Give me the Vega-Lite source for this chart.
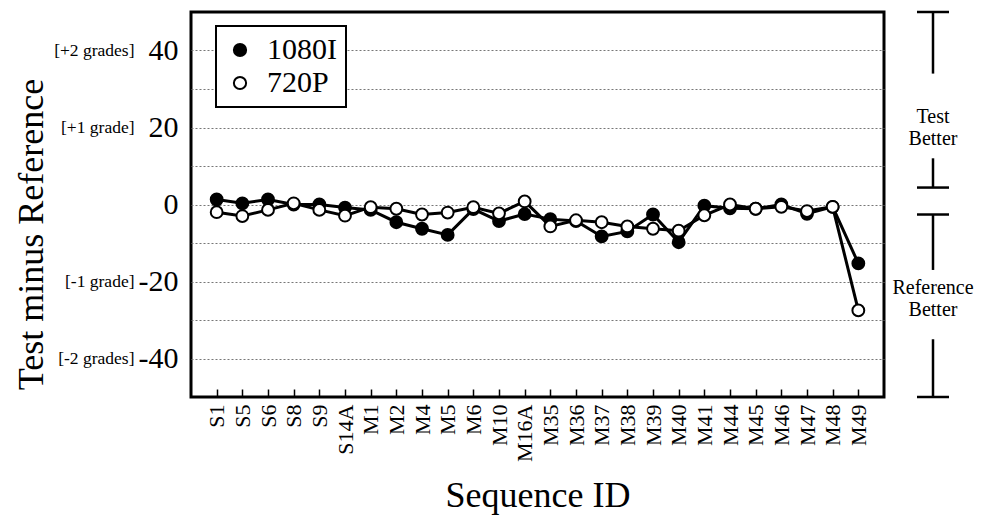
{
  "$schema": "https://vega.github.io/schema/vega-lite/v6.json",
  "padding": {"left": 12, "top": 10, "right": 5, "bottom": 2},
  "background": "white",
  "config": {
    "font": "Liberation Serif",
    "legend": {"strokeWidth": 2}
  },
  "resolve": {"legend": {"fill": "independent"}},
  "spacing": 6,
  "hconcat": [
    {
      "width": 693,
      "height": 385,
      "view": {"stroke": "black", "strokeWidth": 3},
      "data": {
        "values": [
          {"seq": "S1", "series": "1080I", "value": 1.3},
          {"seq": "S5", "series": "1080I", "value": 0.3},
          {"seq": "S6", "series": "1080I", "value": 1.3},
          {"seq": "S8", "series": "1080I", "value": 0},
          {"seq": "S9", "series": "1080I", "value": 0},
          {"seq": "S14A", "series": "1080I", "value": -0.8},
          {"seq": "M1", "series": "1080I", "value": -1.4},
          {"seq": "M2", "series": "1080I", "value": -4.6},
          {"seq": "M4", "series": "1080I", "value": -6.3},
          {"seq": "M5", "series": "1080I", "value": -7.9},
          {"seq": "M6", "series": "1080I", "value": -1.2},
          {"seq": "M10", "series": "1080I", "value": -4.3},
          {"seq": "M16A", "series": "1080I", "value": -2.5},
          {"seq": "M35", "series": "1080I", "value": -3.8},
          {"seq": "M36", "series": "1080I", "value": -4.3},
          {"seq": "M37", "series": "1080I", "value": -8.3},
          {"seq": "M38", "series": "1080I", "value": -7.0},
          {"seq": "M39", "series": "1080I", "value": -2.6},
          {"seq": "M40", "series": "1080I", "value": -9.8},
          {"seq": "M41", "series": "1080I", "value": -0.3},
          {"seq": "M44", "series": "1080I", "value": -1.0},
          {"seq": "M45", "series": "1080I", "value": -1.1},
          {"seq": "M46", "series": "1080I", "value": 0},
          {"seq": "M47", "series": "1080I", "value": -2.4},
          {"seq": "M48", "series": "1080I", "value": -0.6},
          {"seq": "M49", "series": "1080I", "value": -15.3},
          {"seq": "S1", "series": "720P", "value": -2.0},
          {"seq": "S5", "series": "720P", "value": -3.0},
          {"seq": "S6", "series": "720P", "value": -1.4},
          {"seq": "S8", "series": "720P", "value": 0.3},
          {"seq": "S9", "series": "720P", "value": -1.4},
          {"seq": "S14A", "series": "720P", "value": -2.9},
          {"seq": "M1", "series": "720P", "value": -0.7},
          {"seq": "M2", "series": "720P", "value": -1.1},
          {"seq": "M4", "series": "720P", "value": -2.6},
          {"seq": "M5", "series": "720P", "value": -2.1},
          {"seq": "M6", "series": "720P", "value": -0.7},
          {"seq": "M10", "series": "720P", "value": -2.3},
          {"seq": "M16A", "series": "720P", "value": 0.8},
          {"seq": "M35", "series": "720P", "value": -5.7},
          {"seq": "M36", "series": "720P", "value": -4.1},
          {"seq": "M37", "series": "720P", "value": -4.6},
          {"seq": "M38", "series": "720P", "value": -5.7},
          {"seq": "M39", "series": "720P", "value": -6.3},
          {"seq": "M40", "series": "720P", "value": -6.8},
          {"seq": "M41", "series": "720P", "value": -2.8},
          {"seq": "M44", "series": "720P", "value": 0},
          {"seq": "M45", "series": "720P", "value": -1.1},
          {"seq": "M46", "series": "720P", "value": -0.6},
          {"seq": "M47", "series": "720P", "value": -1.7},
          {"seq": "M48", "series": "720P", "value": -0.6},
          {"seq": "M49", "series": "720P", "value": -27.5}
        ]
      },
      "resolve": {"axis": {"y": "independent"}},
      "layer": [
        {
          "mark": {"type": "line", "color": "black", "strokeWidth": 3},
          "encoding": {
            "x": {
              "field": "seq", "type": "nominal", "sort": null,
              "scale": {"type": "point", "padding": 1},
              "axis": {
                "title": "Sequence ID", "titleFontSize": 36, "titleFontWeight": "normal",
                "titleColor": "black", "titlePadding": 17,
                "labelAngle": 270, "labelFontSize": 22, "labelColor": "black",
                "labelPadding": 15, "tickSize": -8, "tickColor": "black", "tickWidth": 1.5,
                "domain": false, "grid": false
              }
            },
            "y": {
              "field": "value", "type": "quantitative",
              "scale": {"domain": [-50, 50], "nice": false, "zero": false},
              "axis": {
                "values": [-40, -30, -20, -10, 0, 10, 20, 30, 40],
                "labelExpr": "datum.value % 20 == 0 ? toString(datum.value) : ''",
                "title": null, "labelFontSize": 30, "labelColor": "black",
                "labelPadding": 13, "ticks": false, "domain": false,
                "grid": true, "gridColor": "#777", "gridDash": [2, 2], "gridWidth": 1
              }
            },
            "detail": {"field": "series"}
          }
        },
        {
          "mark": {"type": "point", "filled": true, "stroke": "black", "strokeWidth": 2, "size": 140, "opacity": 1},
          "encoding": {
            "x": {"field": "seq", "type": "nominal", "sort": null},
            "y": {"field": "value", "type": "quantitative", "axis": null},
            "fill": {
              "field": "series", "type": "nominal",
              "scale": {"domain": ["1080I", "720P"], "range": ["black", "white"]},
              "legend": {
                "title": null, "orient": "none", "legendX": 25, "legendY": 14,
                "strokeColor": "black", "padding": 9, "fillColor": "white",
                "labelFontSize": 30, "labelColor": "black", "labelOffset": 12,
                "symbolSize": 150, "symbolStrokeColor": "black", "symbolStrokeWidth": 2,
                "symbolType": "circle", "rowPadding": 3
              }
            }
          }
        },
        {
          "data": {"values": [{"g": 40}, {"g": 20}, {"g": -20}, {"g": -40}]},
          "mark": {"type": "point", "opacity": 0},
          "encoding": {
            "y": {
              "field": "g", "type": "quantitative",
              "axis": {
                "orient": "left", "offset": 52,
                "values": [40, 20, -20, -40],
                "labelExpr": "datum.value == 40 ? '[+2 grades]' : datum.value == 20 ? '[+1 grade]' : datum.value == -20 ? '[-1 grade]' : datum.value == -40 ? '[-2 grades]' : ''",
                "labelFontSize": 17.5, "labelColor": "black", "labelPadding": 5,
                "ticks": false, "domain": false, "grid": false,
                "title": "Test minus Reference", "titleFontSize": 36, "titleY": 222,
                "titleFontWeight": "normal", "titleColor": "black", "titlePadding": 3
              }
            }
          }
        }
      ]
    },
    {
      "width": 80,
      "height": 385,
      "view": {"stroke": null},
      "layer": [
        {
          "data": {"values": [
            {"x": 0.5, "y": 50, "y2": 34},
            {"x": 0.5, "y": 12, "y2": 4.4},
            {"x": 0.5, "y": -2.6, "y2": -17},
            {"x": 0.5, "y": -35, "y2": -50}
          ]},
          "mark": {"type": "rule", "color": "black", "strokeWidth": 2.5},
          "encoding": {
            "x": {"field": "x", "type": "quantitative", "scale": {"domain": [0, 1]}, "axis": null},
            "y": {"field": "y", "type": "quantitative", "scale": {"domain": [-50, 50], "nice": false, "zero": false}, "axis": null},
            "y2": {"field": "y2"}
          }
        },
        {
          "data": {"values": [
            {"x": 0.3, "x2": 0.7, "y": 50},
            {"x": 0.3, "x2": 0.7, "y": 4.4},
            {"x": 0.3, "x2": 0.7, "y": -2.6},
            {"x": 0.3, "x2": 0.7, "y": -50}
          ]},
          "mark": {"type": "rule", "color": "black", "strokeWidth": 2.5},
          "encoding": {
            "x": {"field": "x", "type": "quantitative", "scale": {"domain": [0, 1]}, "axis": null},
            "x2": {"field": "x2"},
            "y": {"field": "y", "type": "quantitative", "scale": {"domain": [-50, 50], "nice": false, "zero": false}, "axis": null}
          }
        },
        {
          "data": {"values": [
            {"x": 0.5, "y": 22.6, "t": "Test"},
            {"x": 0.5, "y": 17.1, "t": "Better"},
            {"x": 0.5, "y": -21.8, "t": "Reference"},
            {"x": 0.5, "y": -27.5, "t": "Better"}
          ]},
          "mark": {"type": "text", "fontSize": 20, "color": "black", "align": "center", "baseline": "middle"},
          "encoding": {
            "x": {"field": "x", "type": "quantitative", "scale": {"domain": [0, 1]}, "axis": null},
            "y": {"field": "y", "type": "quantitative", "scale": {"domain": [-50, 50], "nice": false, "zero": false}, "axis": null},
            "text": {"field": "t"}
          }
        }
      ]
    }
  ]
}
